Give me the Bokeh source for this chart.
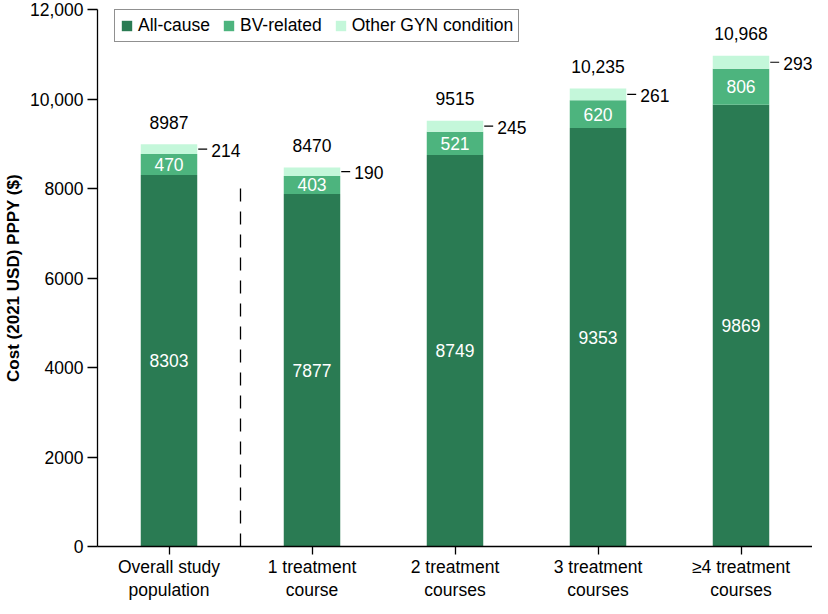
from bokeh.plotting import figure
from bokeh.models import FixedTicker, Legend, LegendItem, ColumnDataSource, Range1d, LabelSet, LinearAxis
from bokeh.embed import file_html
from bokeh.resources import INLINE
from bokeh.core.properties import value

cat_line1 = ["Overall study", "1 treatment", "2 treatment", "3 treatment", "\u22654 treatment"]
cat_line2 = ["population", "course", "courses", "courses", "courses"]
all_cause = [8303, 7877, 8749, 9353, 9869]
bv_related = [470, 403, 521, 620, 806]
other_gyn = [214, 190, 245, 261, 293]
total_labels = ["8987", "8470", "9515", "10,235", "10,968"]
y_ticks = [0, 2000, 4000, 6000, 8000, 10000, 12000]
y_tick_labels = ["0", "2000", "4000", "6000", "8000", "10,000", "12,000"]
separator_top = 8150

C_ALL = "#2a7b53"
C_BV = "#4db47e"
C_OTH = "#c4f7da"
FONT = "Liberation Sans"
FS = "17.5px"
BAR_W = 0.395
PX = 1 / 144.0  # approx data units per screen pixel along x

W, H = 812, 603
B_LEFT, B_TOP, B_RIGHT, B_BOTTOM = 91, 9, 0, 57
FRAME_H = H - B_TOP - B_BOTTOM

xs = list(range(len(cat_line1)))
bv_bottom = list(all_cause)
bv_top = [a + b for a, b in zip(all_cause, bv_related)]
oth_top = [t + o for t, o in zip(bv_top, other_gyn)]

src = ColumnDataSource(dict(
    x=xs,
    ac=all_cause,
    ac_mid=[a / 2 for a in all_cause],
    ac_lab=[str(a) for a in all_cause],
    bv_bottom=bv_bottom,
    bv_top=bv_top,
    bv_mid=[(a + b) / 2 for a, b in zip(bv_bottom, bv_top)],
    bv_lab=[str(b) for b in bv_related],
    oth_top=oth_top,
    oth_mid=[(a + b) / 2 for a, b in zip(bv_top, oth_top)],
    oth_lab=[str(o) for o in other_gyn],
    tot_lab=total_labels,
    edge=[x + BAR_W / 2 + 1 * PX for x in xs],
    edge2=[x + BAR_W / 2 + 10 * PX for x in xs],
))

p = figure(width=W, height=H, output_backend="svg", toolbar_location=None,
           x_range=Range1d(-0.5, 4.5), y_range=Range1d(0, 12000),
           min_border_left=B_LEFT, min_border_top=B_TOP, min_border_right=B_RIGHT,
           min_border_bottom=B_BOTTOM)
p.outline_line_color = None
p.xgrid.grid_line_color = None
p.ygrid.grid_line_color = None
p.background_fill_color = "white"

r_ac = p.vbar(x="x", width=BAR_W, bottom=0, top="ac", source=src, fill_color=C_ALL, line_color=None)
r_bv = p.vbar(x="x", width=BAR_W, bottom="bv_bottom", top="bv_top", source=src, fill_color=C_BV, line_color=None)
r_ot = p.vbar(x="x", width=BAR_W, bottom="bv_top", top="oth_top", source=src, fill_color=C_OTH, line_color=None)

p.text(x="x", y="ac_mid", text="ac_lab", source=src, text_color="white", text_align="center",
       text_baseline="middle", text_font=value(FONT), text_font_size=FS)
p.text(x="x", y="bv_mid", text="bv_lab", source=src, text_color="white", text_align="center",
       text_baseline="middle", text_font=value(FONT), text_font_size=FS)
p.segment(x0="edge", y0="oth_mid", x1="edge2", y1="oth_mid", source=src, line_color="black", line_width=1.2)
p.add_layout(LabelSet(x="edge2", y="oth_mid", text="oth_lab", source=src, x_offset=4, y_offset=-1,
                      text_color="black", text_align="left", text_baseline="middle",
                      text_font=value(FONT), text_font_size=FS))
p.add_layout(LabelSet(x="x", y="oth_top", text="tot_lab", source=src, y_offset=22,
                      text_color="black", text_align="center", text_baseline="middle",
                      text_font=value(FONT), text_font_size=FS))

p.segment(x0=[0.5], y0=[0], x1=[0.5], y1=[separator_top], line_color="black", line_width=1.3, line_dash="13 10")

# axes
p.xaxis.ticker = FixedTicker(ticks=xs)
p.xaxis.major_label_overrides = {i: c for i, c in zip(xs, cat_line1)}
x2 = LinearAxis(ticker=FixedTicker(ticks=xs),
                major_label_overrides={i: c for i, c in zip(xs, cat_line2)},
                axis_line_color=None, major_tick_line_color=None, minor_tick_line_color=None,
                major_tick_in=0, major_tick_out=0, major_label_standoff=0,
                major_label_text_font=FONT, major_label_text_font_size=FS,
                major_label_text_color="black")
p.add_layout(x2, "below")
p.yaxis.ticker = FixedTicker(ticks=y_ticks)
p.yaxis.major_label_overrides = {t: l for t, l in zip(y_ticks, y_tick_labels)}
for ax in (p.xaxis[0], p.yaxis[0]):
    ax.axis_line_color = "black"
    ax.axis_line_width = 1.3
    ax.major_tick_line_color = "black"
    ax.major_tick_line_width = 1.3
    ax.major_tick_in = 0
    ax.minor_tick_line_color = None
    ax.major_label_text_font = FONT
    ax.major_label_text_font_size = FS
    ax.major_label_text_color = "black"
p.xaxis[0].major_tick_out = 8
p.xaxis[0].major_label_standoff = 2
p.yaxis.major_tick_out = 10
p.yaxis.major_label_standoff = 4
p.yaxis.axis_label = "Cost (2021 USD) PPPY ($)"
p.yaxis.axis_label_text_font = FONT
p.yaxis.axis_label_text_font_size = "17px"
p.yaxis.axis_label_text_font_style = "bold"
p.yaxis.axis_label_text_color = "black"
p.yaxis.axis_label_standoff = 4

LEG_H = 30
legend = Legend(items=[LegendItem(label="All-cause", renderers=[r_ac]),
                       LegendItem(label="BV-related", renderers=[r_bv]),
                       LegendItem(label="Other GYN condition", renderers=[r_ot])],
                orientation="horizontal", location=(17, FRAME_H - LEG_H - 3),
                glyph_width=13, glyph_height=13, label_standoff=5, spacing=12, padding=5, margin=0,
                label_text_font=FONT, label_text_font_size=FS, label_text_color="black",
                label_height=17, border_line_color="#222222", border_line_width=1.3,
                background_fill_alpha=1)
p.add_layout(legend, "center")

open("out.html", "w").write(file_html(p, INLINE))
